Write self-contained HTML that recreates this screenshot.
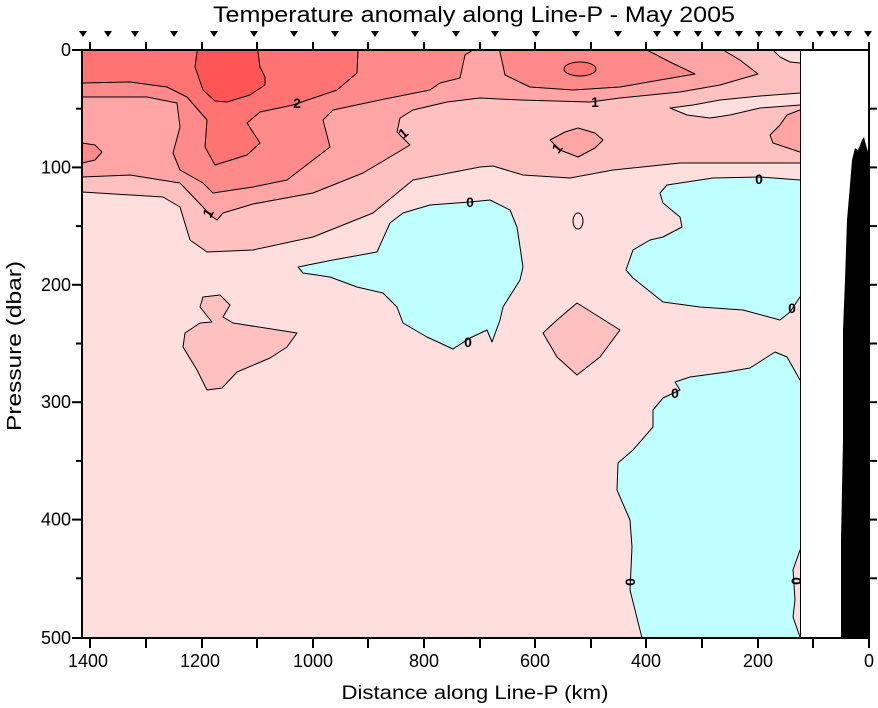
<!DOCTYPE html>
<html><head><meta charset="utf-8"><style>
html,body{margin:0;padding:0;background:#fff;}
svg{display:block;font-family:"Liberation Sans",Arial,sans-serif;}
</style></head><body>
<svg width="878" height="708" viewBox="0 0 878 708" xmlns="http://www.w3.org/2000/svg">
<defs><clipPath id="pc"><rect x="82" y="50" width="718" height="588"/></clipPath></defs>
<g clip-path="url(#pc)" stroke="#000" stroke-width="1" stroke-linejoin="round">
<rect x="82" y="50" width="718" height="588" fill="#FFDEDE" stroke="none"/>
<path fill="#FFC0C0" d="M70,40 L810,40 L810,163 L800,163 L680,163 L613,170 L570,178 L523,175 L493,166 L480,167 L413,180 L373,213 L313,237 L253,250 L207,252 L190,240 L180,207 L163,197 L82,192 L70,192 Z"/>
<path fill="#FFDEDE" d="M810,93 L800,93 L760,96 L720,100 L693,105 L670,108 L687,115 L710,118 L730,115 L760,108 L800,105 L810,105 Z"/>
<path fill="#FFDEDE" d="M773,40 L773,50 L780,57 L790,62 L800,63 L810,63 L810,40 Z"/>
<path fill="#FFA5A5" d="M70,40 L723,40 L723,50 L740,60 L758,74 L720,85 L680,92 L620,98 L590,102 L520,100 L480,98 L447,102 L413,110 L400,118 L397,132 L410,145 L363,173 L313,193 L253,204 L223,213 L217,220 L210,215 L203,207 L180,183 L130,175 L82,177 L70,177 Z"/>
<path fill="#FFA5A5" d="M810,110 L800,110 L787,115 L780,125 L770,135 L773,143 L800,152 L810,152 Z"/>
<path fill="#FFA5A5" d="M550,140 L565,132 L578,128 L595,133 L603,140 L595,148 L578,157 L560,150 Z"/>
<path fill="#FFC0C0" d="M203,297 L220,295 L230,305 L223,317 L233,323 L297,333 L287,347 L270,358 L237,372 L222,388 L207,390 L197,370 L183,347 L185,333 L200,323 L212,322 L200,307 Z"/>
<path fill="#FFC0C0" d="M577,303 L620,330 L600,357 L577,375 L557,357 L543,333 L557,320 Z"/>
<path fill="#FF8A8A" d="M70,40 L473,40 L473,50 L465,55 L460,78 L440,83 L430,90 L380,100 L333,110 L323,120 L330,147 L287,180 L253,187 L213,193 L203,183 L180,170 L173,153 L180,127 L177,103 L147,97 L82,97 L70,97 Z"/>
<path fill="#FF8A8A" d="M500,40 L647,40 L647,50 L670,62 L695,74 L660,80 L620,87 L573,90 L530,87 L505,75 L500,52 Z"/>
<path fill="#FF8A8A" d="M70,143 L82,143 L95,145 L102,152 L95,160 L82,163 L70,163 Z"/>
<path fill="#FF7373" d="M70,40 L358,40 L358,50 L357,73 L337,90 L293,105 L260,112 L247,123 L260,143 L247,155 L215,165 L205,147 L207,120 L187,97 L167,87 L130,82 L82,83 L70,83 Z"/>
<ellipse cx="580" cy="69" rx="16" ry="7" fill="#FF7373"/>
<path fill="#FF5555" d="M197,40 L197,52 L195,67 L203,90 L215,101 L227,102 L250,95 L265,85 L265,77 L260,67 L258,52 L258,40 Z"/>
<path fill="#BFFFFF" d="M298,267 L333,260 L377,252 L390,223 L403,213 L430,205 L470,202 L490,200 L510,210 L517,227 L523,267 L520,280 L503,307 L500,320 L492,342 L487,330 L470,338 L453,349 L427,337 L403,323 L397,307 L383,293 L357,287 L330,277 L303,273 Z"/>
<path fill="#BFFFFF" d="M660,193 L667,185 L713,178 L760,177 L800,180 L810,180 L810,297 L800,297 L790,312 L780,320 L743,310 L700,307 L663,302 L633,278 L626,270 L633,250 L650,240 L663,237 L682,227 L680,217 L663,203 Z"/>
<path fill="#BFFFFF" d="M810,380 L800,380 L787,357 L775,352 L750,368 L727,372 L690,377 L675,382 L680,390 L663,398 L653,410 L653,427 L633,450 L618,463 L617,490 L630,520 L632,547 L630,590 L642,638 L642,650 L810,650 Z"/>
<path fill="#FFDEDE" d="M810,550 L800,550 L793,570 L795,600 L793,617 L800,637 L810,637 Z"/>
<ellipse cx="578" cy="221" rx="5" ry="8" fill="#FFDEDE"/>
</g>
<g font-size="14" font-weight="bold" fill="#000" text-anchor="middle">
<text x="297" y="108">2</text>
<text x="595" y="107">1</text>
<text x="403" y="138" transform="rotate(-40 403 133)">1</text>
<text x="208" y="218" transform="rotate(-60 208 213)">1</text>
<text x="557" y="153" transform="rotate(-50 557 148)">1</text>
<text x="470" y="207">0</text>
<text x="468" y="347">0</text>
<text x="759" y="184">0</text>
<text x="792" y="313">0</text>
<text x="675" y="398">0</text>
<text x="630" y="587" transform="rotate(-90 630 582)">0</text>
<text x="796" y="586" transform="rotate(-90 796 581)">0</text>
</g>
<rect x="800.5" y="50" width="68.5" height="588" fill="#fff"/>
<line x1="800.5" y1="50" x2="800.5" y2="638" stroke="#000" stroke-width="1"/>
<path fill="#000" d="M841,638 L841,540 L843,440 L843,330 L845,280 L847,220 L850,185 L852,160 L855,148 L858,150 L862,140 L864,137 L866,145 L869,155 L869,638 Z"/>
<rect x="82" y="50" width="787" height="588" fill="none" stroke="#000" stroke-width="2"/>
<g stroke="#000" stroke-width="2">
<line x1="90" y1="638" x2="90" y2="648"/><line x1="146" y1="638" x2="146" y2="648"/>
<line x1="202" y1="638" x2="202" y2="648"/><line x1="257" y1="638" x2="257" y2="648"/>
<line x1="313" y1="638" x2="313" y2="648"/><line x1="368" y1="638" x2="368" y2="648"/>
<line x1="424" y1="638" x2="424" y2="648"/><line x1="480" y1="638" x2="480" y2="648"/>
<line x1="535" y1="638" x2="535" y2="648"/><line x1="591" y1="638" x2="591" y2="648"/>
<line x1="646" y1="638" x2="646" y2="648"/><line x1="702" y1="638" x2="702" y2="648"/>
<line x1="758" y1="638" x2="758" y2="648"/><line x1="813" y1="638" x2="813" y2="648"/>
<line x1="869" y1="638" x2="869" y2="648"/>
<line x1="90" y1="50" x2="90" y2="42"/><line x1="146" y1="50" x2="146" y2="42"/>
<line x1="202" y1="50" x2="202" y2="42"/><line x1="257" y1="50" x2="257" y2="42"/>
<line x1="313" y1="50" x2="313" y2="42"/><line x1="368" y1="50" x2="368" y2="42"/>
<line x1="424" y1="50" x2="424" y2="42"/><line x1="480" y1="50" x2="480" y2="42"/>
<line x1="535" y1="50" x2="535" y2="42"/><line x1="591" y1="50" x2="591" y2="42"/>
<line x1="646" y1="50" x2="646" y2="42"/><line x1="702" y1="50" x2="702" y2="42"/>
<line x1="758" y1="50" x2="758" y2="42"/><line x1="813" y1="50" x2="813" y2="42"/>
<line x1="869" y1="50" x2="869" y2="42"/>
<line x1="72" y1="50" x2="82" y2="50"/><line x1="76" y1="108.7" x2="82" y2="108.7"/>
<line x1="72" y1="167.4" x2="82" y2="167.4"/><line x1="76" y1="226.1" x2="82" y2="226.1"/>
<line x1="72" y1="284.8" x2="82" y2="284.8"/><line x1="76" y1="343.5" x2="82" y2="343.5"/>
<line x1="72" y1="402.2" x2="82" y2="402.2"/><line x1="76" y1="460.9" x2="82" y2="460.9"/>
<line x1="72" y1="519.6" x2="82" y2="519.6"/><line x1="76" y1="578.3" x2="82" y2="578.3"/>
<line x1="72" y1="638" x2="82" y2="638"/>
<line x1="869" y1="108.7" x2="877" y2="108.7"/><line x1="869" y1="167.4" x2="877" y2="167.4"/>
<line x1="869" y1="226.1" x2="877" y2="226.1"/><line x1="869" y1="284.8" x2="877" y2="284.8"/>
<line x1="869" y1="343.5" x2="877" y2="343.5"/><line x1="869" y1="402.2" x2="877" y2="402.2"/>
<line x1="869" y1="460.9" x2="877" y2="460.9"/><line x1="869" y1="519.6" x2="877" y2="519.6"/>
<line x1="869" y1="578.3" x2="877" y2="578.3"/>
</g>
<g fill="#000">
<path d="M79,31h8l-4,6z M104,31h8l-4,6z M131,31h8l-4,6z M170,31h8l-4,6z M210,31h8l-4,6z M250,31h8l-4,6z M290,31h8l-4,6z M331,31h8l-4,6z M371,31h8l-4,6z M411,31h8l-4,6z M452,31h8l-4,6z M491,31h8l-4,6z M532,31h8l-4,6z M572,31h8l-4,6z M614,31h8l-4,6z M653,31h8l-4,6z M673,31h8l-4,6z M694,31h8l-4,6z M714,31h8l-4,6z M735,31h8l-4,6z M755,31h8l-4,6z M775,31h8l-4,6z M796,31h8l-4,6z M816,31h8l-4,6z M830,31h8l-4,6z M844,31h8l-4,6z M864,31h8l-4,6z"/>
</g>
<g font-size="18" fill="#000">
<g text-anchor="middle">
<text x="88" y="667">1400</text><text x="200" y="667">1200</text><text x="313" y="667">1000</text>
<text x="424" y="667">800</text><text x="535" y="667">600</text><text x="646" y="667">400</text>
<text x="758" y="667">200</text><text x="869" y="667">0</text>
</g>
<g text-anchor="end">
<text x="71" y="56">0</text><text x="71" y="173.4">100</text><text x="71" y="290.8">200</text>
<text x="71" y="408.2">300</text><text x="71" y="525.6">400</text><text x="71" y="644">500</text>
</g>
</g>
<text x="474" y="22" font-size="22" text-anchor="middle" textLength="522" lengthAdjust="spacingAndGlyphs">Temperature anomaly along Line-P - May 2005</text>
<text x="475" y="699" font-size="19" text-anchor="middle" textLength="267" lengthAdjust="spacingAndGlyphs">Distance along Line-P (km)</text>
<text x="0" y="0" font-size="20" text-anchor="middle" textLength="170" lengthAdjust="spacingAndGlyphs" transform="translate(21,346) rotate(-90)">Pressure (dbar)</text>
</svg>
</body></html>
